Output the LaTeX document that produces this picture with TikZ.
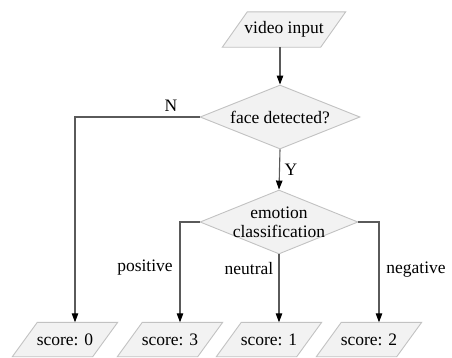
\documentclass[tikz,border=0pt]{standalone}
\usepackage{fontspec}
\setmainfont{Liberation Serif}
\newfontfamily\tmsfont{Liberation Serif}
\usetikzlibrary{shapes.geometric,arrows.meta,calc,backgrounds}
\definecolor{boxfill}{HTML}{F2F2F2}
\definecolor{boxline}{HTML}{C2C2C2}
\definecolor{conn}{HTML}{5A5A5A}
\begin{document}
\begin{tikzpicture}[x=1pt,y=-1pt,
  font=\tmsfont\fontsize{17.5}{20}\selectfont,
  para/.style={rectangle, inner sep=0pt, minimum width=80pt, minimum height=34pt},
  paraline/.style={draw=boxline, fill=boxfill, line width=0.9pt, line join=miter},
  dia/.style={diamond, draw=boxline, fill=boxfill, line width=0.9pt, inner sep=0pt},
  arr/.style={draw=conn, line width=1.1pt, -{Triangle[length=9pt,width=6.5pt,color=black]}},
  lbl/.style={inner sep=0pt}]
\useasboundingbox (0,0) rectangle (452,357);
\node[para, minimum width=98pt, minimum height=35pt] (v) at (284,29.5) {video input};
\node[dia, minimum width=160pt, minimum height=64pt] (f) at (280,117) {};
\node[lbl] at (f) {face detected?};
\node[dia, minimum width=158pt, minimum height=64pt] (em) at (279,222) {};
\node[lbl, align=center] at (em) {emotion\\[-1pt]classification};
\node[para] (s0) at (65,339.5) {score: 0};
\node[para] (s3) at (170,339.5) {score: 3};
\node[para] (s1) at (269,339.5) {score: 1};
\node[para] (s2) at (369,339.5) {score: 2};
\begin{pgfonlayer}{background}
\foreach \n in {v,s0,s3,s1,s2}
  \draw[paraline] ($(\n.north west)+(12.5,0)$) -- ($(\n.north east)+(12.5,0)$)
     -- ($(\n.south east)+(-12.5,0)$) -- ($(\n.south west)+(-12.5,0)$) -- cycle;
\end{pgfonlayer}
\draw[arr] ([xshift=-4pt]v.south) -- (f.north);
\draw[arr] (f.west) -| ([xshift=10pt]s0.north);
\draw[arr] (f.south) -- (em.north);
\draw[arr] (em.west) -| ([xshift=10pt]s3.north);
\draw[arr] (em.south) -- ([xshift=10pt]s1.north);
\draw[arr] (em.east) -| ([xshift=10pt]s2.north);
\node[lbl] (lN) at (171,106) {N};
\node[lbl] (lY) at (291,170) {Y};
\node[lbl] (lp) at (145,268) {positive};
\node[lbl] (ln) at (249,269) {neutral};
\node[lbl] (lg) at (416,270) {negative};
\end{tikzpicture}
\end{document}
